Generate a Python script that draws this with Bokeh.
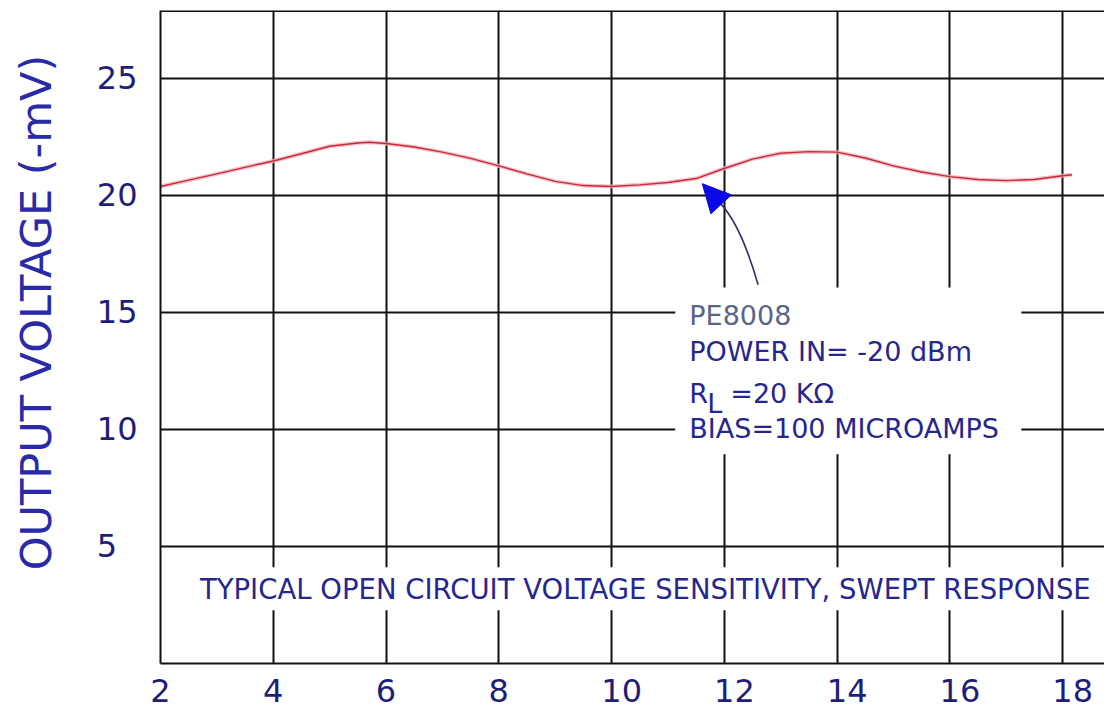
from bokeh.plotting import figure
from bokeh.models import Range1d, FixedTicker, Span, BoxAnnotation, Arrow, NormalHead
from bokeh.core.properties import value
from bokeh.embed import file_html
from bokeh.resources import INLINE

# ---- data ----
freq_ghz = [2.0, 2.5, 3.0, 3.5, 4.0, 4.5, 5.0, 5.5, 5.7, 6.0, 6.5, 7.0, 7.5, 8.0,
            8.5, 9.0, 9.5, 10.0, 10.5, 11.0, 11.5, 12.0, 12.5, 13.0, 13.5, 14.0,
            14.5, 15.0, 15.5, 16.0, 16.5, 17.0, 17.5, 18.0, 18.17]
output_mv = [20.38, 20.65, 20.92, 21.2, 21.47, 21.78, 22.1, 22.24, 22.27, 22.22,
             22.07, 21.85, 21.58, 21.26, 20.92, 20.6, 20.42, 20.38, 20.45, 20.55,
             20.72, 21.15, 21.55, 21.8, 21.87, 21.85, 21.6, 21.26, 21.0, 20.8,
             20.68, 20.63, 20.68, 20.84, 20.88]

x_ticks = [2, 4, 6, 8, 10, 12, 14, 16, 18]
x_tick_labels = ["2", "4", "6", "8", "\u200710", "\u200712", "\u200714",
                 "\u200716", "\u200718"]
y_ticks = [5, 10, 15, 20, 25]
y_tick_labels = ["5\u2007", "10", "15", "20", "25"]
y_grid = [0, 5, 10, 15, 20, 25]
x_limits = (2, 18.745)
y_limits = (0, 27.9)

# leading fixed-width spaces lift the visible title slightly above the frame centre
y_title = "\u2007\u2002OUTPUT VOLTAGE (-mV)"

note_lines = ["PE8008", "POWER IN= -20 dBm", "R", "BIAS=100 MICROAMPS"]
note_y = [14.88, 13.32, 11.55, 10.03]
note_x = 11.38
rl_sub = "L"
rl_rest = "=20 K\u03a9"
note_box = dict(left=11.13, right=17.27, bottom=8.94, top=16.07)

footer_text = "TYPICAL OPEN CIRCUIT VOLTAGE SENSITIVITY, SWEPT RESPONSE"
footer_x, footer_y = 10.6, 3.18
footer_box = dict(left=2.62, right=18.58, bottom=2.27, top=4.11)

# arrow from note to curve
arrow_tip = (11.61, 20.5)
arrow_base = (11.93, 19.66)
arrow_tail = (12.6, 16.18)
arrow_ctrl = (12.3, 18.72)

NAVY = "#26268c"
TICK = "#1e1e78"
FONT = "DejaVu Sans"

p = figure(width=1104, height=712, output_backend="svg", toolbar_location=None,
           x_range=Range1d(*x_limits), y_range=Range1d(*y_limits),
           min_border_left=160, min_border_right=0, min_border_top=10,
           min_border_bottom=41)
p.outline_line_color = None
p.background_fill_color = "white"
p.border_fill_color = "white"

# axes
p.xaxis.ticker = FixedTicker(ticks=x_ticks)
p.yaxis.ticker = FixedTicker(ticks=y_ticks)
p.xaxis.major_label_overrides = dict(zip(x_ticks, x_tick_labels))
p.yaxis.major_label_overrides = dict(zip(y_ticks, y_tick_labels))
for ax in (p.xaxis[0], p.yaxis[0]):
    ax.major_tick_out = 0
    ax.major_tick_in = 0
    ax.minor_tick_out = 0
    ax.minor_tick_in = 0
    ax.axis_line_color = "#111111"
    ax.axis_line_width = 2
    ax.major_label_text_font = FONT
    ax.major_label_text_font_size = "32px"
    ax.major_label_text_color = TICK
p.xaxis.major_label_standoff = 8
p.yaxis.major_label_standoff = 23
p.yaxis.axis_label = y_title
p.yaxis.axis_label_text_font = FONT
p.yaxis.axis_label_text_font_size = "43px"
p.yaxis.axis_label_text_font_style = "normal"
p.yaxis.axis_label_text_color = "#2a2aa8"
p.yaxis.axis_label_standoff = 33

# grid
p.xgrid.ticker = FixedTicker(ticks=x_ticks)
p.ygrid.ticker = FixedTicker(ticks=y_grid)
for g in (p.xgrid[0], p.ygrid[0]):
    g.grid_line_color = "#111111"
    g.grid_line_width = 2
    g.grid_line_alpha = 1

p.add_layout(Span(location=y_limits[1], dimension="width",
                  line_color="#111111", line_width=3))

# white boxes behind the texts
p.add_layout(BoxAnnotation(**note_box, fill_color="white", fill_alpha=1,
                           line_color=None, level="underlay"))
p.add_layout(BoxAnnotation(**footer_box, fill_color="white", fill_alpha=1,
                           line_color=None, level="underlay"))

# curve (pink halo + red core)
p.line(freq_ghz, output_mv, line_color="#f2b3ba", line_width=4, line_alpha=0.8)
p.line(freq_ghz, output_mv, line_color="#c8283c", line_width=1.4)

# annotation text
colors = ["#5a6488", NAVY, NAVY, NAVY]
p.text(x=[note_x] * 4, y=note_y, text=note_lines, text_color=colors,
       text_font=value(FONT), text_font_size="27px", text_baseline="middle",
       text_align="left")
p.text(x=[note_x], y=[note_y[2]], text=[rl_sub], x_offset=18, y_offset=10,
       text_color=NAVY, text_font=value(FONT), text_font_size="27px",
       text_baseline="middle", text_align="left")
p.text(x=[note_x], y=[note_y[2]], text=[rl_rest], x_offset=41,
       text_color=NAVY, text_font=value(FONT), text_font_size="27px",
       text_baseline="middle", text_align="left")

p.text(x=[footer_x], y=[footer_y], text=[footer_text], text_color=NAVY,
       text_font=value(FONT), text_font_size="27.5px", text_baseline="middle",
       text_align="center")

# arrow
p.quadratic(x0=[arrow_tail[0]], y0=[arrow_tail[1]], x1=[arrow_base[0]],
            y1=[arrow_base[1]], cx=[arrow_ctrl[0]], cy=[arrow_ctrl[1]],
            line_color="#2e2e6e", line_width=1.6)
p.add_layout(Arrow(end=NormalHead(size=28, fill_color="#0a0ae6",
                                  line_color="#0a0ae6"),
                   x_start=arrow_base[0], y_start=arrow_base[1],
                   x_end=arrow_tip[0], y_end=arrow_tip[1],
                   line_color="#0a0ae6", line_width=1.5))

open("out.html", "w").write(file_html(p, INLINE))
